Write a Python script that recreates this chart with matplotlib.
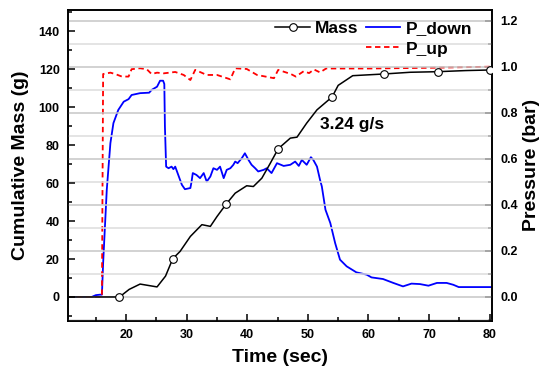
import matplotlib
matplotlib.use("Agg")
import matplotlib.pyplot as plt
from matplotlib.lines import Line2D
from matplotlib.ticker import MultipleLocator, FormatStrFormatter

plt.rcParams['font.family'] = ['Liberation Sans', 'DejaVu Sans']
plt.rcParams['font.weight'] = 'bold'

# cumulative mass (g), left axis
t_mass = [10.4, 18.7, 18.9, 20.5, 22.3, 23.8, 25.1, 26.5, 27.7, 28.9, 30.6, 32.5, 33.9, 35.0, 36.5,
          38.0, 39.9, 41.0, 42.4, 43.8, 45.1, 47.1, 48.2, 49.8, 51.5, 54.0, 55.0,
          57.4, 59.7, 62.6, 66.9, 71.4, 76.1, 80.1]
mass = [0, 0, 0, 4.0, 6.8, 6.0, 5.3, 11.0, 20.2, 24.0, 31.9, 38.1, 37.2, 42.4, 48.9,
        54.7, 58.6, 58.2, 62.6, 70.5, 78.1, 83.7, 84.2, 91.6, 98.6, 105.4, 111.5,
        116.6, 117.0, 117.5, 118.4, 118.7, 119.3, 119.6]
mass_markers = [2, 8, 14, 20, 25, 29, 31, 33]

# downstream pressure (bar), right axis
t_down = [10.4, 14.3, 15.0, 15.7, 16.0, 16.2, 16.8, 17.4, 17.9, 18.7, 19.6, 20.4,
          20.9, 22.3, 23.8, 24.2, 25.1, 25.6, 26.1, 26.3, 26.4, 26.6, 27.0, 27.5,
          27.8, 28.1, 28.6, 29.2, 29.7, 30.6, 30.8, 31.0, 31.6, 32.2, 32.8, 33.3,
          33.9, 34.4, 35.0, 35.5, 36.1, 36.6, 37.2, 37.7, 38.0, 38.4, 39.1, 39.6,
          40.2, 40.7, 41.3, 41.8, 42.7, 43.2, 44.0, 44.9, 46.0, 47.1, 47.9, 48.5,
          49.0, 49.8, 50.5, 50.9, 51.5, 52.0, 52.3, 52.9, 53.7, 54.5, 55.3, 56.4,
          58.0, 59.7, 60.5, 62.4, 64.1, 65.7, 67.1, 68.5, 69.9, 71.3, 72.9, 74.0,
          74.9, 76.8, 80.35]
p_down = [0, 0, 0.008, 0.010, 0.010, 0.147, 0.465, 0.668, 0.755, 0.812, 0.848, 0.859,
          0.877, 0.885, 0.887, 0.899, 0.913, 0.939, 0.939, 0.925, 0.740, 0.566, 0.559, 0.566,
          0.555, 0.566, 0.530, 0.487, 0.468, 0.473, 0.501, 0.538, 0.530, 0.516, 0.538, 0.501,
          0.523, 0.559, 0.552, 0.566, 0.516, 0.552, 0.559, 0.574, 0.588, 0.581, 0.603, 0.624,
          0.595, 0.574, 0.559, 0.545, 0.552, 0.559, 0.538, 0.581, 0.569, 0.574, 0.588, 0.569,
          0.595, 0.574, 0.607, 0.595, 0.566, 0.509, 0.480, 0.379, 0.321, 0.234, 0.162, 0.133,
          0.107, 0.097, 0.085, 0.078, 0.061, 0.046, 0.058, 0.056, 0.049, 0.061, 0.061, 0.053,
          0.043, 0.043, 0.043]

# upstream pressure (bar), right axis
t_up = [10.4, 16.0, 16.2, 17.4, 18.2, 19.3, 20.4, 20.9, 22.3, 23.4, 24.2, 25.1,
        26.2, 28.1, 29.5, 30.6, 31.4, 33.3, 35.0, 37.2, 38.0, 39.9, 41.6, 44.4,
        45.1, 47.2, 48.0, 49.3, 50.2, 51.0, 52.0, 53.0, 60.0, 70.0, 80.35]
p_up = [0, 0, 0.968, 0.974, 0.968, 0.957, 0.957, 0.989, 0.993, 0.989, 0.968, 0.974,
        0.971, 0.977, 0.964, 0.942, 0.986, 0.964, 0.964, 0.945, 0.993, 0.990, 0.964, 0.950,
        0.986, 0.968, 0.957, 0.980, 0.972, 0.988, 0.975, 0.992, 0.992, 0.995, 1.0]

fig = plt.figure(figsize=(5.47, 3.75), dpi=100)
ax = fig.add_axes([0.1243, 0.1448, 0.7747, 0.8285])
ax2 = ax.twinx()
ax.set_zorder(ax2.get_zorder() + 1)
ax.patch.set_visible(False)

l_mass, = ax.plot(t_mass, mass, color='black', lw=1.1, marker='o', ms=5.5,
                  mfc='white', mec='black', mew=0.8, markevery=mass_markers, zorder=3)
l_down, = ax2.plot(t_down, p_down, color='#0000ff', lw=1.3)
l_up, = ax2.plot(t_up, p_up, color='#ff0000', lw=1.3, ls=(0, (3, 2)))

ax.set_xlim(10.4, 80.35)
ax.set_ylim(-12.5, 151.2)
ax2.set_ylim(-0.103, 1.246)

ax.xaxis.set_major_locator(MultipleLocator(10))
ax.xaxis.set_minor_locator(MultipleLocator(5))
ax.yaxis.set_major_locator(MultipleLocator(20))
ax.yaxis.set_minor_locator(MultipleLocator(10))
ax2.yaxis.set_major_locator(MultipleLocator(0.2))
ax2.yaxis.set_minor_locator(MultipleLocator(0.1))
ax2.yaxis.set_major_formatter(FormatStrFormatter('%.1f'))

for a in (ax, ax2):
    a.tick_params(which='both', direction='in', width=1.1, labelsize=9)
    a.tick_params(which='major', length=5)
    a.tick_params(which='minor', length=3)
    for s in a.spines.values():
        s.set_linewidth(1.2)
ax.tick_params(axis='y', which='both', right=False)
ax.tick_params(axis='x', which='both', top=False, pad=6)
ax2.tick_params(axis='y', which='both', pad=6)
ax.tick_params(axis='y', pad=6)

# horizontal grid at the pressure ticks, mapped onto the mass axes so it sits under the curves
m0, m1 = ax.get_ylim()
p0, p1 = ax2.get_ylim()
scale = (m1 - m0) / (p1 - p0)
for v in ax2.yaxis.get_minorticklocs():
    ax.axhline(m0 + (v - p0) * scale, color='#dcdcdc', lw=1.1, zorder=1.5)
for v in ax2.yaxis.get_majorticklocs():
    ax.axhline(m0 + (v - p0) * scale, color='#c6c6c6', lw=1.1, zorder=1.5)

ax.set_xlabel('Time (sec)', fontsize=14, fontweight='bold', labelpad=6)
ax.set_ylabel('Cumulative Mass (g)', fontsize=14, fontweight='bold', labelpad=7)
ax2.set_ylabel('Pressure (bar)', fontsize=14, fontweight='bold', labelpad=4)

ax.text(52.0, 90.7, '3.24 g/s', fontsize=12.5, fontweight='bold', va='center')

blank = Line2D([], [], ls='none')
ax.legend([l_mass, blank, l_down, l_up], ['Mass', '', 'P_down', 'P_up'],
          ncol=2, frameon=False, fontsize=12.5, handlelength=2.0,
          handletextpad=0.3, columnspacing=0.4, labelspacing=0.3,
          borderpad=0, borderaxespad=0, loc='upper right',
          bbox_to_anchor=(472 / 547, 1 - 21 / 375), bbox_transform=fig.transFigure)

fig.savefig('out.png', dpi=100)
